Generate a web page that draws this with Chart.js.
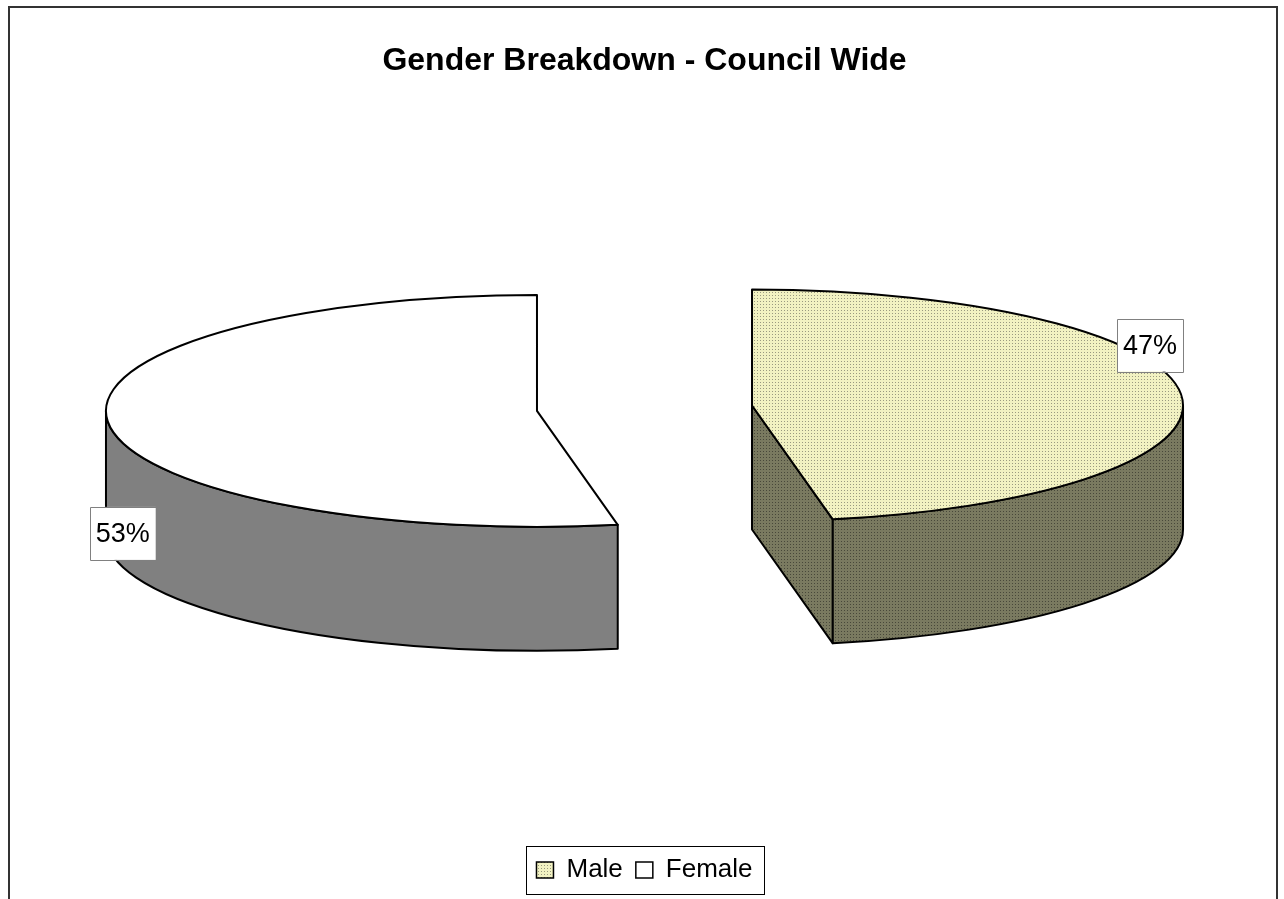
<!DOCTYPE html>
<html>
<head>
<meta charset="utf-8">
<title>Gender Breakdown - Council Wide</title>
<script src="https://cdn.jsdelivr.net/npm/chart.js@4.4.1/dist/chart.umd.min.js"></script>
<style>
  html, body { margin: 0; padding: 0; background: #fff; }
  #wrap { width: 1284px; height: 899px; }
</style>
</head>
<body>
<div id="wrap"><canvas id="chart" width="1284" height="899"></canvas></div>
<script>
// Data
const categories = ['Male', 'Female'];
const values = [47, 53];
const chartTitle = 'Gender Breakdown - Council Wide';

// Look of the 3d pie
const FONT = '"Liberation Sans", Arial, Helvetica, sans-serif';
const TILT = 0.269;   // ry / rx of the top face
const DEPTH = 124;    // thickness
const RADIUS = 431;
const EXPLODE = 108;
const labelSpots = [{ angle: -29.4, r: 1.06, drop: 0 }, { angle: 164, r: 1.0, drop: 0.73 }];

const canvas = document.getElementById('chart');
const cctx = canvas.getContext('2d');
function dotPattern(bg, dot) {
    const c = document.createElement('canvas'); c.width = 3; c.height = 3;
    const g = c.getContext('2d');
    g.fillStyle = bg; g.fillRect(0, 0, 3, 3);
    g.fillStyle = dot; g.fillRect(1, 1, 1, 1);
    return cctx.createPattern(c, 'repeat');
}
const topColors = [dotPattern('#f2f2c2', '#9a9a80'), '#ffffff'];
const sideColors = [dotPattern('#7a7a60', '#48483a'), '#808080'];

// centre of the top face of one exploded slice
function sliceCentre(arc) {
    const h = (arc.startAngle + arc.endAngle) / 2, off = arc.options.offset || 0;
    return [arc.x + Math.cos(h) * off, arc.y - DEPTH / 2 + Math.sin(h) * off * TILT];
}

const pie3d = {
    id: 'pie3d',
    beforeDatasetsDraw(chart) {
        const ctx = chart.ctx, meta = chart.getDatasetMeta(0);
        const data = chart.data.datasets[0].data, total = data.reduce((a, b) => a + b, 0);
        ctx.save();
        ctx.lineWidth = 2; ctx.strokeStyle = '#000'; ctx.lineJoin = 'round';
        const shape = (draw, fill) => { ctx.beginPath(); draw(); ctx.closePath(); ctx.fillStyle = fill; ctx.fill(); ctx.stroke(); };
        meta.data.forEach((arc, i) => {
            const s = arc.startAngle, e = arc.endAngle, R = arc.outerRadius, ry = R * TILT;
            const [cx, cy] = sliceCentre(arc);
            const rim = (a, z) => [cx + R * Math.cos(a), cy + ry * Math.sin(a) + z];
            // cut faces turned to the viewer
            [[s, Math.cos(s) < -1e-3], [e, Math.cos(e) > 1e-3]].forEach(([a, show]) => {
                if (!show) return;
                const p = rim(a, 0), q = rim(a, DEPTH);
                shape(() => { ctx.moveTo(cx, cy); ctx.lineTo(p[0], p[1]); ctx.lineTo(q[0], q[1]); ctx.lineTo(cx, cy + DEPTH); }, sideColors[i]);
            });
            // outer wall, front half only
            for (let k = -1; k <= 1; k++) {
                const a1 = Math.max(s, 2 * Math.PI * k), a2 = Math.min(e, Math.PI + 2 * Math.PI * k);
                if (a2 - a1 < 1e-3) continue;
                shape(() => { ctx.ellipse(cx, cy, R, ry, 0, a1, a2); ctx.ellipse(cx, cy + DEPTH, R, ry, 0, a2, a1, true); }, sideColors[i]);
            }
            // top face
            shape(() => { ctx.moveTo(cx, cy); ctx.ellipse(cx, cy, R, ry, 0, s, e); }, arc.options.backgroundColor);
        });
        // percentage labels
        ctx.font = '27px ' + FONT; ctx.textAlign = 'center'; ctx.textBaseline = 'middle';
        meta.data.forEach((arc, i) => {
            const [cx, cy] = sliceCentre(arc), R = arc.outerRadius, spot = labelSpots[i], a = spot.angle * Math.PI / 180;
            const x = cx + spot.r * R * Math.cos(a), y = cy + spot.r * R * TILT * Math.sin(a) + spot.drop * DEPTH;
            const txt = Math.round(data[i] / total * 100) + '%';
            const w = ctx.measureText(txt).width + 12, hh = 53;
            ctx.fillStyle = '#fff'; ctx.fillRect(x - w / 2, y - hh / 2, w, hh);
            ctx.lineWidth = 1; ctx.strokeStyle = '#808080'; ctx.strokeRect(Math.round(x - w / 2) + 0.5, Math.round(y - hh / 2) + 0.5, Math.round(w), hh);
            ctx.fillStyle = '#000'; ctx.fillText(txt, x, y + 1);
        });
        ctx.restore();
        return false;
    },
    afterDraw(chart) {
        const ctx = chart.ctx, boxes = chart.legend.legendHitBoxes;
        ctx.save();
        // frame round the legend
        const l = Math.min(...boxes.map(b => b.left)) - 10, r = Math.max(...boxes.map(b => b.left + b.width)) + 12;
        const t = Math.min(...boxes.map(b => b.top)) - 11, btm = Math.max(...boxes.map(b => b.top + b.height)) + 11;
        ctx.lineWidth = 1; ctx.strokeStyle = '#000';
        ctx.strokeRect(Math.round(l) + 0.5, Math.round(t) + 0.5, Math.round(r - l), Math.round(btm - t));
        // chart border (bottom edge is cut off)
        ctx.lineWidth = 2; ctx.strokeStyle = '#333';
        ctx.strokeRect(9, 7, 1268, 950);
        ctx.restore();
    }
};

new Chart(canvas, {
    type: 'pie',
    data: { labels: categories, datasets: [{ data: values, backgroundColor: topColors, borderColor: '#000', borderWidth: 1.5, offset: EXPLODE, radius: RADIUS }] },
    options: {
        responsive: false, animation: false, devicePixelRatio: 1,
        layout: { padding: { top: 10, bottom: 6, left: 5, right: 0 } },
        plugins: {
            title: { display: true, text: chartTitle, color: '#000', font: { family: FONT, size: 32, weight: 'bold' }, padding: { top: 32, bottom: 16 } },
            legend: { position: 'bottom', labels: { color: '#000', font: { family: FONT, size: 26 }, boxWidth: 17, boxHeight: 16, padding: 13 } },
            tooltip: { enabled: false }
        }
    },
    plugins: [pie3d]
});
</script>
</body>
</html>
